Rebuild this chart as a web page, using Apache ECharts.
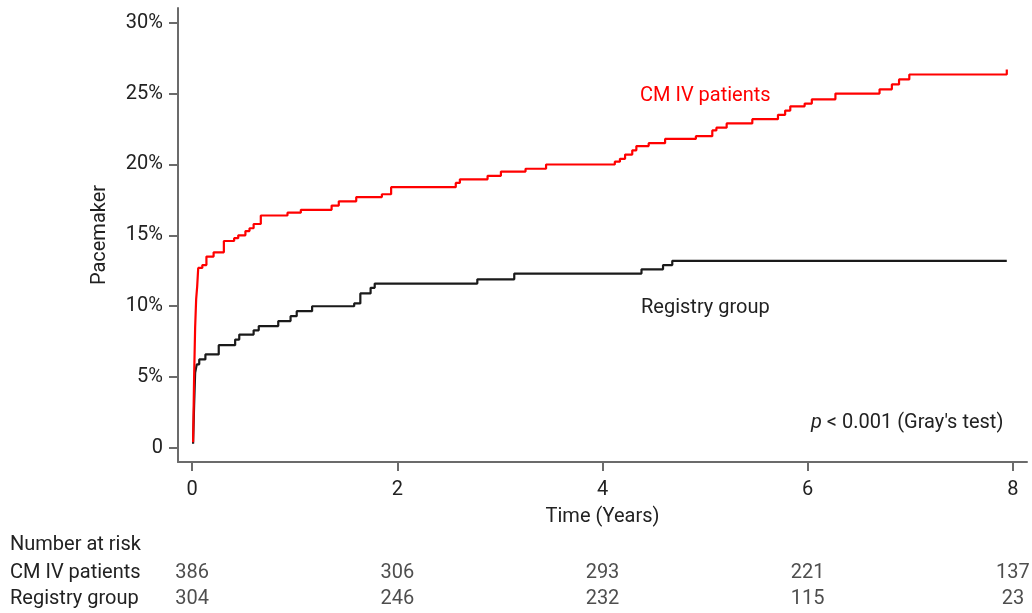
<!doctype html>
<html>
<head>
<meta charset="utf-8">
<title>Pacemaker cumulative incidence</title>
<script src="https://cdn.jsdelivr.net/npm/echarts@6/dist/echarts.min.js"></script>
<style>
    body{margin:0;background:#fff;}
    #main{width:1032px;height:613px;}
</style>
</head>
<body>
<div id="main"></div>
<script>
    // 数据：时间（年）与累计发生率（%）
    var cmTime = [0.01, 0.02, 0.03, 0.04, 0.05, 0.06, 0.10, 0.14, 0.21, 0.31, 0.41, 0.45, 0.52, 0.56, 0.60, 0.67, 0.93, 1.06, 1.36, 1.43, 1.60, 1.85, 1.94, 2.57, 2.61, 2.88, 3.01, 3.25, 3.45, 4.12, 4.17, 4.22, 4.29, 4.33, 4.45, 4.61, 4.91, 5.07, 5.11, 5.21, 5.46, 5.71, 5.78, 5.83, 5.97, 6.04, 6.27, 6.70, 6.82, 6.89, 6.99, 7.94];
    var cmRate = [0.4, 5.0, 8.5, 10.5, 11.4, 12.7, 12.9, 13.5, 13.8, 14.6, 14.8, 15.0, 15.3, 15.5, 15.8, 16.4, 16.6, 16.8, 17.1, 17.4, 17.7, 17.9, 18.4, 18.7, 18.95, 19.2, 19.5, 19.7, 20.0, 20.2, 20.4, 20.7, 21.0, 21.3, 21.5, 21.8, 22.0, 22.4, 22.6, 22.9, 23.2, 23.5, 23.8, 24.1, 24.3, 24.6, 25.0, 25.3, 25.65, 26.0, 26.35, 26.7];
    var regTime = [0.01, 0.02, 0.03, 0.046, 0.07, 0.13, 0.26, 0.42, 0.46, 0.60, 0.65, 0.84, 0.96, 1.02, 1.17, 1.58, 1.64, 1.74, 1.78, 2.78, 3.14, 4.38, 4.59, 4.68, 7.94];
    var regRate = [0.3, 3.0, 5.3, 5.9, 6.25, 6.6, 7.25, 7.65, 8.0, 8.3, 8.6, 8.95, 9.3, 9.65, 10.0, 10.2, 10.9, 11.3, 11.6, 11.9, 12.3, 12.6, 12.9, 13.2, 13.2];

    var xTicks = [0, 2, 4, 6, 8];
    var yTicks = [0, 5, 10, 15, 20, 25, 30];

    // 风险人数表
    var riskRows = ['CM IV patients', 'Registry group'];
    var riskTimes = [0, 2, 4, 6, 8];
    var riskCM = [386, 306, 293, 221, 137];
    var riskReg = [304, 246, 232, 115, 23];

    function pairs(t, v){
        var out = [];
        for (var i = 0; i < t.length; i++) out.push([t[i], v[i]]);
        return out;
    }
    var riskData = [];
    for (var i = 0; i < riskTimes.length; i++){
        riskData.push([riskTimes[i], riskRows[0], riskCM[i]]);
        riskData.push([riskTimes[i], riskRows[1], riskReg[i]]);
    }

    var font = 'Roboto';
    var fs = 20;
    var axisColor = '#6b6b6b';
    var txtColor = '#222';

    var myChart = echarts.init(document.getElementById('main'));
    var option = {
        animation: false,
        textStyle: {fontFamily: font},
        grid: [
            {left: 178, right: 5, top: 8, bottom: 151},
            {left: 178, right: 5, top: 560, height: 52}
        ],
        xAxis: [{
            type: 'value',
            gridIndex: 0,
            min: -0.137,
            max: 8.137,
            name: 'Time (Years)',
            nameLocation: 'middle',
            nameGap: 45,
            nameTextStyle: {fontSize: fs, color: txtColor, fontFamily: font},
            axisLine: {onZero: false, lineStyle: {color: axisColor, width: 2}},
            axisTick: {show: true, length: 9, customValues: xTicks, lineStyle: {color: axisColor, width: 2}},
            axisLabel: {customValues: xTicks, fontSize: fs, color: txtColor, margin: 18, fontFamily: font},
            splitLine: {show: false}
        }, {
            type: 'value',
            gridIndex: 1,
            min: -0.137,
            max: 8.137,
            show: false
        }],
        yAxis: [{
            type: 'value',
            gridIndex: 0,
            min: -0.99,
            max: 31.04,
            name: 'Pacemaker',
            nameLocation: 'middle',
            nameGap: 68,
            nameTextStyle: {fontSize: fs, color: txtColor, fontFamily: font},
            axisLine: {show: true, onZero: false, lineStyle: {color: axisColor, width: 2}},
            axisTick: {show: true, length: 9, customValues: yTicks, lineStyle: {color: axisColor, width: 2}},
            axisLabel: {
                customValues: yTicks, fontSize: fs, color: txtColor, margin: 15, fontFamily: font,
                formatter: function (v){ return v === 0 ? '0' : v + '%'; }
            },
            splitLine: {show: false}
        }, {
            type: 'category',
            gridIndex: 1,
            data: riskRows,
            inverse: true,
            axisLine: {show: false},
            axisTick: {show: false},
            axisLabel: {interval: 0, hideOverlap: false, align: 'left', margin: 168, fontSize: fs, color: txtColor, fontFamily: font}
        }],
        series: [{
            name: 'Registry group',
            type: 'line',
            step: 'end',
            showSymbol: false,
            xAxisIndex: 0, yAxisIndex: 0,
            lineStyle: {color: '#1a1a1a', width: 2.2},
            data: pairs(regTime, regRate)
        }, {
            name: 'CM IV patients',
            type: 'line',
            step: 'end',
            showSymbol: false,
            xAxisIndex: 0, yAxisIndex: 0,
            lineStyle: {color: '#ff0000', width: 2.2},
            data: pairs(cmTime, cmRate)
        }, {
            name: 'Number at risk',
            type: 'scatter',
            xAxisIndex: 1, yAxisIndex: 1,
            symbolSize: 1,
            itemStyle: {color: 'rgba(0,0,0,0)'},
            label: {
                show: true, position: 'inside', fontSize: fs, color: txtColor, fontFamily: font,
                formatter: function (p){ return p.value[2]; }
            },
            data: riskData
        }],
        graphic: [
            {type: 'text', left: 640, top: 86, style: {text: 'CM IV patients', fill: '#ff0000', font: fs + 'px Roboto'}},
            {type: 'text', left: 641, top: 298, style: {text: 'Registry group', fill: txtColor, font: fs + 'px Roboto'}},
            {type: 'text', left: 811, top: 413, style: {
                text: '{i|p} < 0.001 (Gray\'s test)', fill: txtColor, font: fs + 'px Roboto',
                rich: {i: {fontStyle: 'italic', fontSize: fs, fontFamily: font, fill: txtColor}}
            }},
            {type: 'text', left: 10, top: 535, style: {text: 'Number at risk', fill: txtColor, font: fs + 'px Roboto'}}
        ]
    };
    myChart.setOption(option);
</script>
</body>
</html>
